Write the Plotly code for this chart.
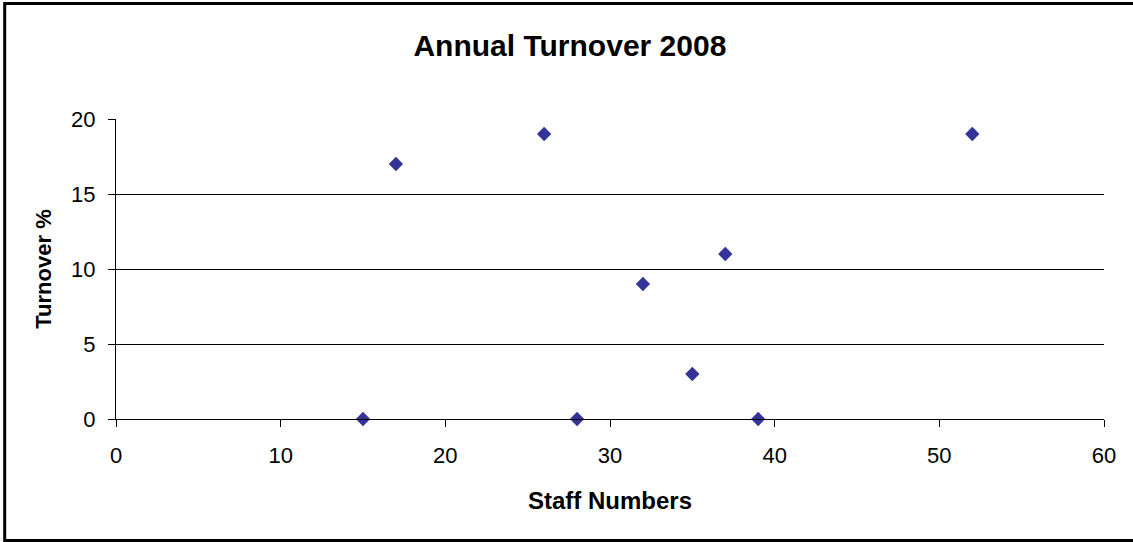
import plotly.graph_objects as go

staff_numbers = [15, 17, 26, 28, 32, 35, 37, 39, 52]
turnover_pct = [0, 17, 19, 0, 9, 3, 11, 0, 19]

x_ticks = [0, 10, 20, 30, 40, 50, 60]
y_ticks = [0, 5, 10, 15, 20]

FONT = "Liberation Sans, Arial, sans-serif"

fig = go.Figure()
fig.add_trace(go.Scatter(
    x=staff_numbers, y=turnover_pct, mode="markers",
    marker=dict(symbol="diamond", size=11, color="#333399",
                line=dict(width=0)),
    showlegend=False, cliponaxis=False,
))

fig.update_layout(
    width=1133, height=542,
    margin=dict(l=116, r=29, t=119, b=123, autoexpand=False),
    paper_bgcolor="white", plot_bgcolor="white",
    font=dict(family=FONT, color="black", size=22),
    title=dict(text="<b>Annual Turnover 2008</b>", x=0.503, xref="container",
               xanchor="center", y=1 - 45 / 542, yref="container",
               yanchor="middle", font=dict(size=30, family=FONT, color="black")),
    xaxis=dict(
        range=[0, 60], tickvals=x_ticks, ticktext=[str(v) for v in x_ticks],
        showgrid=False, zeroline=False, showline=True, linecolor="black",
        linewidth=1, ticks="outside", ticklen=7, tickcolor="black",
        tickfont=dict(size=22, family=FONT, color="black"),
        ticklabelstandoff=10,
        title=dict(text="<b>Staff Numbers</b>", standoff=24,
                   font=dict(size=24, family=FONT, color="black")),
    ),
    yaxis=dict(
        range=[0, 20], tickvals=y_ticks, ticktext=[str(v) for v in y_ticks],
        showgrid=True, gridcolor="black", gridwidth=1, zeroline=False,
        showline=True, linecolor="black", linewidth=1,
        ticks="outside", ticklen=7, tickcolor="black",
        tickfont=dict(size=22, family=FONT, color="black"),
        ticklabelstandoff=8,
        title=dict(text="<b>Turnover %</b>", standoff=13,
                   font=dict(size=22, family=FONT, color="black")),
    ),
    shapes=[dict(type="rect", xref="paper", yref="paper",
                 x0=(5 - 116.3) / 988, x1=1.06,
                 y0=(419.3 - 541) / 300.6, y1=(419.3 - 3) / 300.6,
                 line=dict(color="black", width=3), fillcolor="rgba(0,0,0,0)",
                 layer="below")],
)

fig.write_html("out.html")
